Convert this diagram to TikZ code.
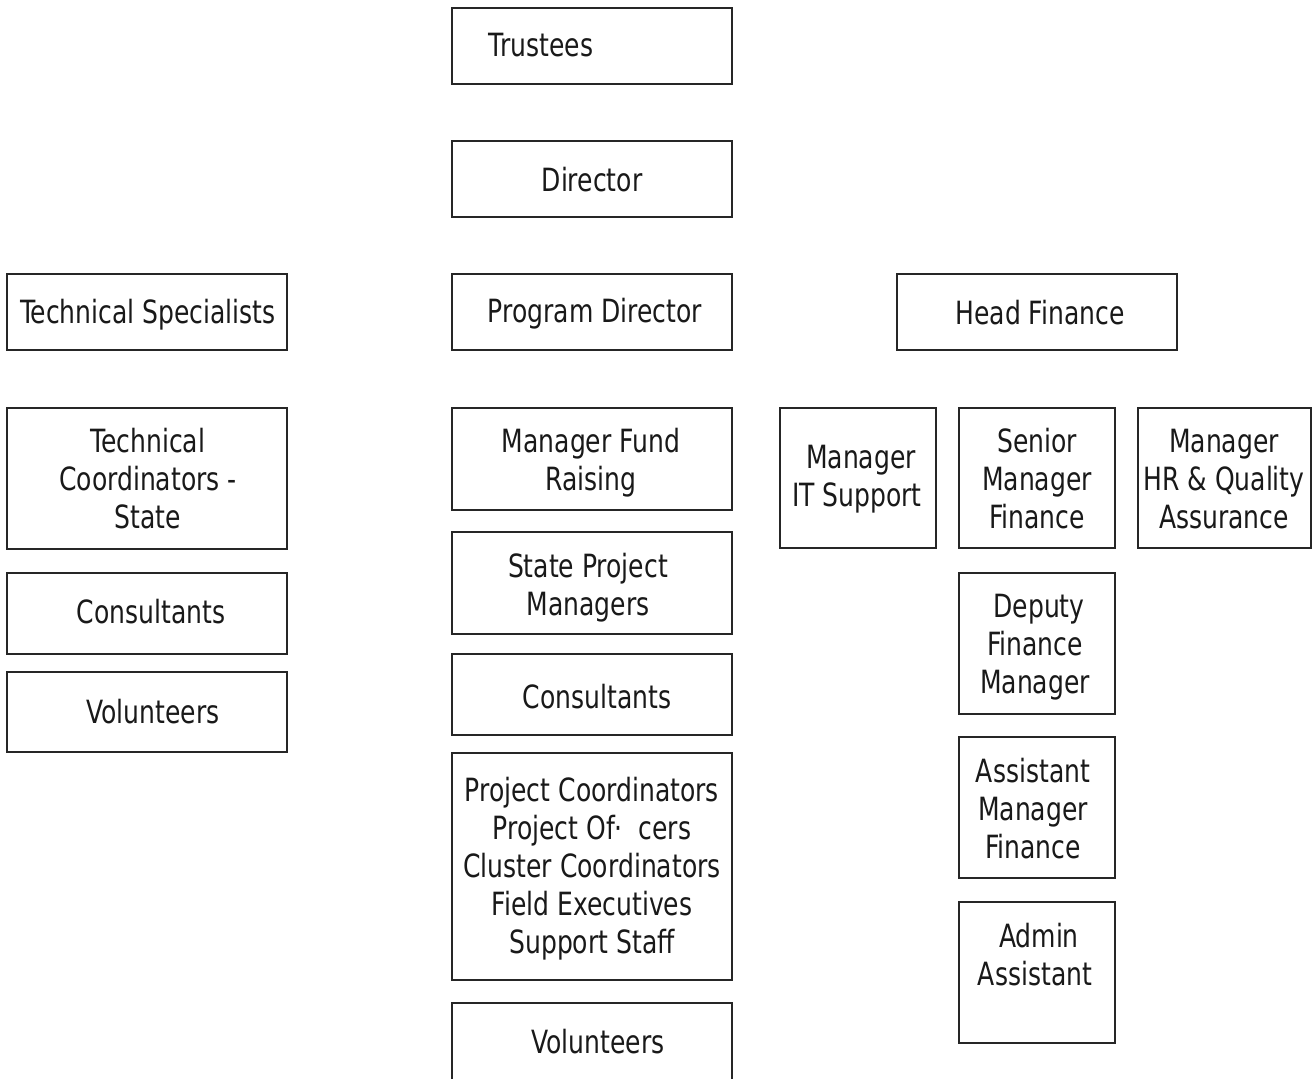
\documentclass[tikz,border=0pt]{standalone}
\usepackage{fontspec}
\setmainfont[FakeStretch=0.87]{DejaVu Sans Condensed}
\begin{document}
\begin{tikzpicture}[x=1pt,y=-1pt,
  boxline/.style={draw=black!85,line width=1.3pt},
  lbl/.style={align=center,inner sep=0pt,font=\fontsize{32}{38}\selectfont,text=black!90}]
\useasboundingbox (0,0) rectangle (1315,1079);
\newcommand{\orgbox}[8]{%
  \draw[boxline] (#2,#3) rectangle (#4,#5);
  \node[lbl] (#1) at (#6,#7) {#8};}
% center column
\orgbox{trustees}{452}{8}{732}{84}{541}{45}{Trustees}
\orgbox{director}{452}{141}{732}{217}{592}{180}{Director}
\orgbox{progdir}{452}{274}{732}{350}{595}{314}{Program Director}
\orgbox{fund}{452}{408}{732}{510}{591}{463}{Manager Fund\\Raising}
\orgbox{spm}{452}{532}{732}{634}{588}{588}{State Project\\Managers}
\orgbox{consmid}{452}{654}{732}{735}{597}{697}{Consultants}
\orgbox{proj}{452}{753}{732}{980}{592}{869}{Project Coordinators\\Project Of·\ \ cers\\Cluster Coordinators\\Field Executives\\Support Staff}
\orgbox{volmid}{452}{1003}{732}{1080}{598}{1042}{Volunteers}
% left column
\orgbox{techspec}{7}{274}{287}{350}{148}{315}{Technical Specialists}
\orgbox{techcoord}{7}{408}{287}{549}{148}{479}{Technical\\Coordinators -\\State}
\orgbox{consleft}{7}{573}{287}{654}{151}{612}{Consultants}
\orgbox{volleft}{7}{672}{287}{752}{153}{712}{Volunteers}
% right side
\orgbox{headfin}{897}{274}{1177}{350}{1040}{313}{Head Finance}
\orgbox{itsup}{780}{408}{936}{548}{857}{479}{\ Manager\\IT Support}
\orgbox{srmgr}{959}{408}{1115}{548}{1037}{479}{Senior\\Manager\\Finance}
\orgbox{hrqa}{1138}{408}{1311}{548}{1224}{479}{Manager\\HR \& Quality\\Assurance}
\orgbox{deputy}{959}{573}{1115}{714}{1035}{647}{\ Deputy\\Finance\\Manager}
\orgbox{asst}{959}{737}{1115}{878}{1033}{809}{Assistant\\Manager\\Finance}
\orgbox{admin}{959}{902}{1115}{1043}{1035}{955}{\ Admin\\Assistant}
\end{tikzpicture}
\end{document}
